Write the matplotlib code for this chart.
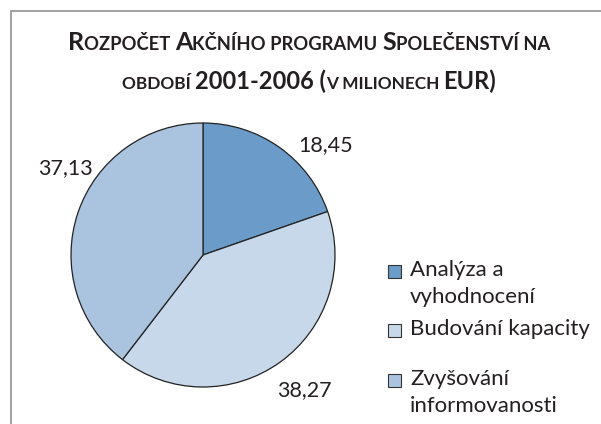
import matplotlib
matplotlib.use("Agg")
import matplotlib.pyplot as plt
from matplotlib.patches import Rectangle
from matplotlib.offsetbox import TextArea, HPacker, AnnotationBbox

# data
categories = ["Analýza a\nvyhodnocení", "Budování kapacity", "Zvyšování\ninformovanosti"]
values = [18.45, 38.27, 37.13]
value_labels = ["18,45", "38,27", "37,13"]
colors = ["#6a9bc9", "#c6d8ea", "#aac3df"]

# title pieces (text, is_big) to fake small caps
title_line1 = [("R", True), ("OZPOČET ", False), ("A", True), ("KČNÍHO PROGRAMU ", False),
               ("S", True), ("POLEČENSTVÍ NA", False)]
title_line2 = [("OBDOBÍ ", False), ("2001-2006 (", True), ("V MILIONECH ", False), ("EUR)", True)]

W, H = 601, 424
FONT = ["Lato", "DejaVu Sans"]
TXT = "#231f20"


def fx(px):
    return px / W


def fy(py):
    return 1 - py / H


fig = plt.figure(figsize=(W / 100, H / 100), dpi=100)

# frame around the chart (runs off the right/bottom edge)
fig.patches.append(Rectangle((fx(11), -0.1), 1.2, fy(11) + 0.1, transform=fig.transFigure,
                             fill=False, edgecolor="#9a9a9a", linewidth=1.3))

# title
for parts, yc, big_fs, small_fs in [(title_line1, 42, 18, 13.2), (title_line2, 81, 17, 12.4)]:
    boxes = []
    for s, big in parts:
        boxes.append(TextArea(s, textprops=dict(fontsize=big_fs if big else small_fs,
                                                fontweight="bold", family=FONT, color=TXT)))
    line = HPacker(children=boxes, align="baseline", pad=0, sep=0)
    ab = AnnotationBbox(line, (fx(309), fy(yc)), xycoords="figure fraction",
                        frameon=False, box_alignment=(0.5, 0.5), pad=0)
    fig.add_artist(ab)

# pie
cx, cy, r = 203, 255, 132
ax = fig.add_axes([fx(cx - r), fy(cy + r), 2 * r / W, 2 * r / H])
wedges, _ = ax.pie(values, colors=colors, startangle=90, counterclock=False,
                   wedgeprops=dict(edgecolor="#222222", linewidth=0.9))
ax.set_xlim(-1, 1)
ax.set_ylim(-1, 1)
ax.axis("off")

label_pos = [(0.93, 0.83), (0.77, -1.02), (-1.04, 0.66)]
for (lx, ly), t in zip(label_pos, value_labels):
    ax.text(lx, ly, t, ha="center", va="center", fontsize=15.5, family=FONT, color=TXT,
            clip_on=False)

# legend, square next to first line of each entry
leg_y = [271, 330, 380]
for y, lab, c in zip(leg_y, categories, colors):
    fig.patches.append(Rectangle((fx(388), fy(y + 6.5)), 13 / W, 13 / H, transform=fig.transFigure,
                                 facecolor=c, edgecolor="#333333", linewidth=0.8))
    fig.text(fx(410), fy(y - 11), lab, ha="left", va="top", fontsize=16, family=FONT,
             color=TXT, linespacing=1.42)

fig.savefig("out.png", dpi=100)
